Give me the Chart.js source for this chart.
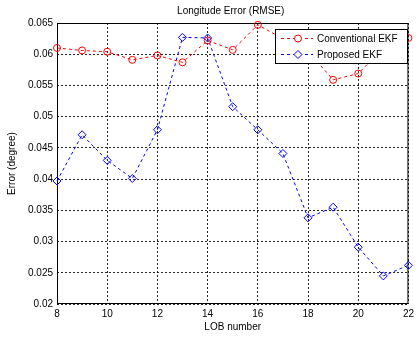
<!DOCTYPE html>
<html>
<head>
<meta charset="utf-8">
<script src="https://cdn.jsdelivr.net/npm/chart.js@4/dist/chart.umd.min.js"></script>
<style>
  html, body { margin: 0; padding: 0; background: #fff; }
  #wrap { width: 418px; height: 338px; }
</style>
</head>
<body>
<div id="wrap"><canvas id="errChart" width="418" height="338"></canvas></div>
<script>
// data
const lobNumbers = [8, 9, 10, 11, 12, 13, 14, 15, 16, 17, 18, 19, 20, 21, 22];
const conventionalEkf = [0.0610, 0.0606, 0.0604, 0.0591, 0.0598, 0.0587, 0.0622, 0.0607, 0.0647, 0.0625, 0.0605, 0.0559, 0.0569, 0.0610, 0.0626];
const proposedEkf = [0.0397, 0.0471, 0.0430, 0.0401, 0.0479, 0.0627, 0.0626, 0.0516, 0.0479, 0.0441, 0.0338, 0.0355, 0.0291, 0.0245, 0.0262];
const yTickLabels = ['0.02', '0.025', '0.03', '0.035', '0.04', '0.045', '0.05', '0.055', '0.06', '0.065'];
const xTickLabels = ['8', '10', '12', '14', '16', '18', '20', '22'];

const FONT = '"Liberation Sans", Arial, sans-serif';

// title, axis labels, box and the in-axes legend (MATLAB look)
const matlabDecor = {
    id: 'matlabDecor',
    beforeDatasetsDraw(chart) {
        const { ctx, chartArea: a } = chart;
        ctx.save();
        ctx.fillStyle = '#000';
        ctx.font = '10px ' + FONT;
        ctx.textAlign = 'center';
        ctx.textBaseline = 'middle';
        ctx.fillText('Longitude Error (RMSE)', (a.left + a.right) / 2 - 2, 11);
        ctx.fillText('LOB number', (a.left + a.right) / 2, 327);
        ctx.save();
        ctx.translate(12, (a.top + a.bottom) / 2);
        ctx.rotate(-Math.PI / 2);
        ctx.fillText('Error (degree)', 0, 0);
        ctx.restore();

        // axes box
        ctx.strokeStyle = '#000';
        ctx.lineWidth = 1;
        ctx.setLineDash([]);
        ctx.strokeRect(a.left + 0.5, a.top + 0.5, a.right - a.left - 1, a.bottom - a.top - 1);
        ctx.restore();
    },
    afterDatasetsDraw(chart) {
        const ctx = chart.ctx;
        ctx.save();
        ctx.font = '10px ' + FONT;
        ctx.textBaseline = 'middle';
        ctx.lineWidth = 1;
        // legend
        const lx = 275, ly = 29, lw = 132, lh = 34;
        ctx.fillStyle = '#fff';
        ctx.fillRect(lx, ly, lw, lh);
        ctx.strokeStyle = '#000';
        ctx.strokeRect(lx + 0.5, ly + 0.5, lw, lh);
        chart.data.datasets.forEach((ds, i) => {
            const y = ly + 9 + i * 16;
            ctx.strokeStyle = ds.borderColor;
            ctx.setLineDash([3, 3]);
            ctx.beginPath();
            ctx.moveTo(lx + 6, y + 0.5);
            ctx.lineTo(lx + 38, y + 0.5);
            ctx.stroke();
            ctx.setLineDash([]);
            ctx.fillStyle = '#fff';
            Chart.helpers.drawPoint(ctx, {
                pointStyle: ds.pointStyle,
                radius: ds.pointRadius,
                borderWidth: 1
            }, lx + 23, y + 0.5);
            ctx.fillStyle = '#000';
            ctx.textAlign = 'left';
            ctx.fillText(ds.label, lx + 42, y + 1);
        });
        ctx.restore();
    }
};

new Chart(document.getElementById('errChart'), {
    type: 'line',
    data: {
        datasets: [{
            label: 'Conventional EKF',
            data: lobNumbers.map((x, i) => ({ x, y: conventionalEkf[i] })),
            borderColor: 'rgb(255,0,0)',
            borderWidth: 1,
            borderDash: [3, 3],
            pointStyle: 'circle',
            pointRadius: 3.5,
            pointBorderWidth: 1,
            pointBackgroundColor: 'rgba(0,0,0,0)',
            pointBorderColor: 'rgb(255,0,0)',
            clip: false,
            tension: 0
        }, {
            label: 'Proposed EKF',
            data: lobNumbers.map((x, i) => ({ x, y: proposedEkf[i] })),
            borderColor: 'rgb(0,0,255)',
            borderWidth: 1,
            borderDash: [3, 3],
            pointStyle: 'rectRot',
            pointRadius: 4,
            pointBorderWidth: 1,
            pointBackgroundColor: 'rgba(0,0,0,0)',
            pointBorderColor: 'rgb(0,0,255)',
            clip: false,
            tension: 0
        }]
    },
    options: {
        responsive: false,
        animation: false,
        layout: { padding: { top: 23, right: 6, left: 0, bottom: 0 } },
        plugins: {
            legend: { display: false },
            title: { display: false },
            tooltip: { enabled: false }
        },
        scales: {
            x: {
                type: 'linear',
                min: 8,
                max: 22,
                afterFit: s => { s.height = 34; },
                afterBuildTicks: s => { s.ticks = xTickLabels.map(v => ({ value: Number(v) })); },
                ticks: {
                    padding: 4,
                    color: '#000',
                    font: { family: FONT, size: 10 },
                    maxRotation: 0,
                    callback: v => xTickLabels.includes(String(v)) ? String(v) : ''
                },
                grid: { color: 'rgba(0,0,0,0.85)', drawTicks: false },
                border: { display: false, dash: [2, 2] }
            },
            y: {
                type: 'linear',
                min: 0.02,
                max: 0.065,
                afterFit: s => { s.width = 57; },
                afterBuildTicks: s => { s.ticks = yTickLabels.map(v => ({ value: Number(v) })); },
                ticks: {
                    padding: 4,
                    color: '#000',
                    font: { family: FONT, size: 10 },
                    callback: (v, i) => yTickLabels[i]
                },
                grid: { color: 'rgba(0,0,0,0.85)', drawTicks: false },
                border: { display: false, dash: [2, 2] }
            }
        }
    },
    plugins: [matlabDecor]
});
</script>
</body>
</html>
